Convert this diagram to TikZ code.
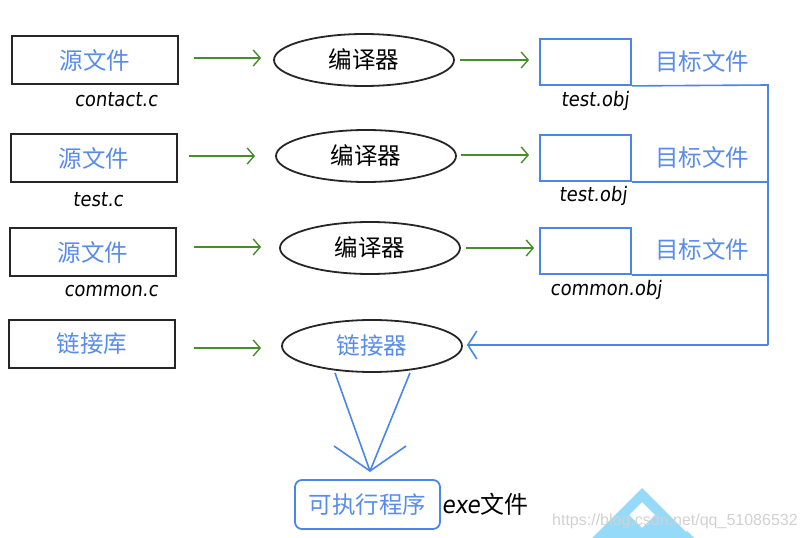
\documentclass[tikz,border=0pt]{standalone}
\usepackage{fontspec}
\setmainfont{Liberation Sans}
\newfontfamily\cjk{Noto Sans CJK SC}
\newfontfamily\hand{DejaVu Sans Condensed}[FakeSlant=0.12]
\usetikzlibrary{shapes.geometric,arrows.meta,calc}
\definecolor{tblue}{RGB}{88,140,235}
\definecolor{lblue}{RGB}{74,134,232}
\definecolor{agreen}{RGB}{72,140,45}
\definecolor{logob}{RGB}{150,218,250}
\tikzset{
  x=1pt,y=-1pt,
  cjkfont/.style={font=\cjk\fontsize{23.5}{23.5}\selectfont},
  srcbox/.style={draw=black!85,line width=1.8pt,minimum width=166pt,minimum height=48pt,inner sep=0pt,cjkfont,text=tblue},
  objbox/.style={draw=lblue,line width=1.8pt,minimum width=91pt,minimum height=46pt,inner sep=0pt},
  comp/.style={draw=black!85,line width=1.8pt,ellipse,minimum width=180pt,minimum height=52pt,inner sep=0pt,cjkfont},
  objtxt/.style={cjkfont,text=tblue},
  hw/.style={font=\hand\fontsize{20}{20}\selectfont,text=black},
  garrow/.style={draw=agreen,line width=1.4pt,-{Straight Barb[length=7pt,width=16pt,line width=1.4pt]}},
  bline/.style={draw=lblue,line width=1.6pt},
}
\begin{document}
\begin{tikzpicture}
\useasboundingbox (0,0) rectangle (804,538);
% logo watermark
\fill[logob,even odd rule] (642,488) -- (700,546) -- (584,546) -- cycle
  (642,502) -- (655,515) -- (642,528) -- (629,515) -- cycle;
\fill[logob] (687,531) -- (694,538) -- (680,538) -- cycle;
% row 1
\node[srcbox] (s1) at (95,60) {源文件};
\node[comp] (c1) at (364,60) {编译器};
\node[objbox] (o1) at (585.5,62) {};
\node[objtxt] (t1) at (702,61) {目标文件};
\node[hw] (l1) at (116,100) {contact.c};
\node[hw] (m1) at (595,101) {test.obj};
% row 2
\node[srcbox] (s2) at (94,158) {源文件};
\node[comp] (c2) at (366,156) {编译器};
\node[objbox] (o2) at (585.5,158) {};
\node[objtxt] (t2) at (702,157) {目标文件};
\node[hw] (l2) at (98,200) {test.c};
\node[hw] (m2) at (593,196) {test.obj};
% row 3
\node[srcbox] (s3) at (93,252) {源文件};
\node[comp] (c3) at (370,248) {编译器};
\node[objbox] (o3) at (585.5,251) {};
\node[objtxt] (t3) at (702,249) {目标文件};
\node[hw] (l3) at (111,291) {common.c};
\node[hw] (m3) at (606,290) {common.obj};
% row 4
\node[srcbox] (s4) at (92,344) {链接库};
\node[comp,text=tblue] (c4) at (372,346) {链接器};
\node[draw=lblue,line width=1.8pt,rounded corners=7pt,minimum width=145pt,minimum height=49pt,inner sep=0pt,cjkfont,text=tblue] (exe) at (367.5,504.5) {可执行程序};
\node[hw,font=\hand\fontsize{24}{24}\selectfont] (el) at (485,504) {exe\cjk 文件};
% green arrows
\draw[garrow] ($(s1.east)+(15,-2)$) -- ($(c1.west)+(-12,-2)$);
\draw[garrow] ($(s2.east)+(11,-2)$) -- ($(c2.west)+(-20,0)$);
\draw[garrow] ($(s3.east)+(17,-5)$) -- ($(c3.west)+(-18,-1)$);
\draw[garrow] ($(s4.east)+(18,4)$) -- ($(c4.west)+(-20,2)$);
\draw[garrow] ($(c1.east)+(5,0)$) -- ($(o1.west)+(-10,-2)$);
\draw[garrow] ($(c2.east)+(4,-1)$) -- ($(o2.west)+(-10,-3)$);
\draw[garrow] ($(c3.east)+(5,0)$) -- ($(o3.west)+(-5,-3)$);
% blue collecting lines
\coordinate (bus1) at (768,85);
\coordinate (bus4) at (768,345);
\draw[bline] (o1.south east) -- (bus1) -- (bus4);
\draw[bline] (o2.south east) -- (o2.south east -| bus1);
\draw[bline] (o3.south east) -- (o3.south east -| bus1);
\draw[bline,-{Straight Barb[length=9pt,width=28pt,line width=1.6pt]}] (bus4) -- ($(c4.east)+(4,-1)$);
% linker to exe
\coordinate (tip) at (370,471);
\draw[bline] ($(c4.south)+(-37,0)$) -- (tip);
\draw[bline] ($(c4.south)+(38,0)$) -- (tip);
\draw[bline] ($(tip)+(-36,-25)$) -- (tip) -- ($(tip)+(36,-25)$);
% watermark text
\node[text=black!18,font=\fontsize{16}{16}\selectfont,anchor=west,inner sep=0pt] (wm) at (552,521) {https://blog.csdn.net/qq\_51086532};
\end{tikzpicture}
\end{document}
